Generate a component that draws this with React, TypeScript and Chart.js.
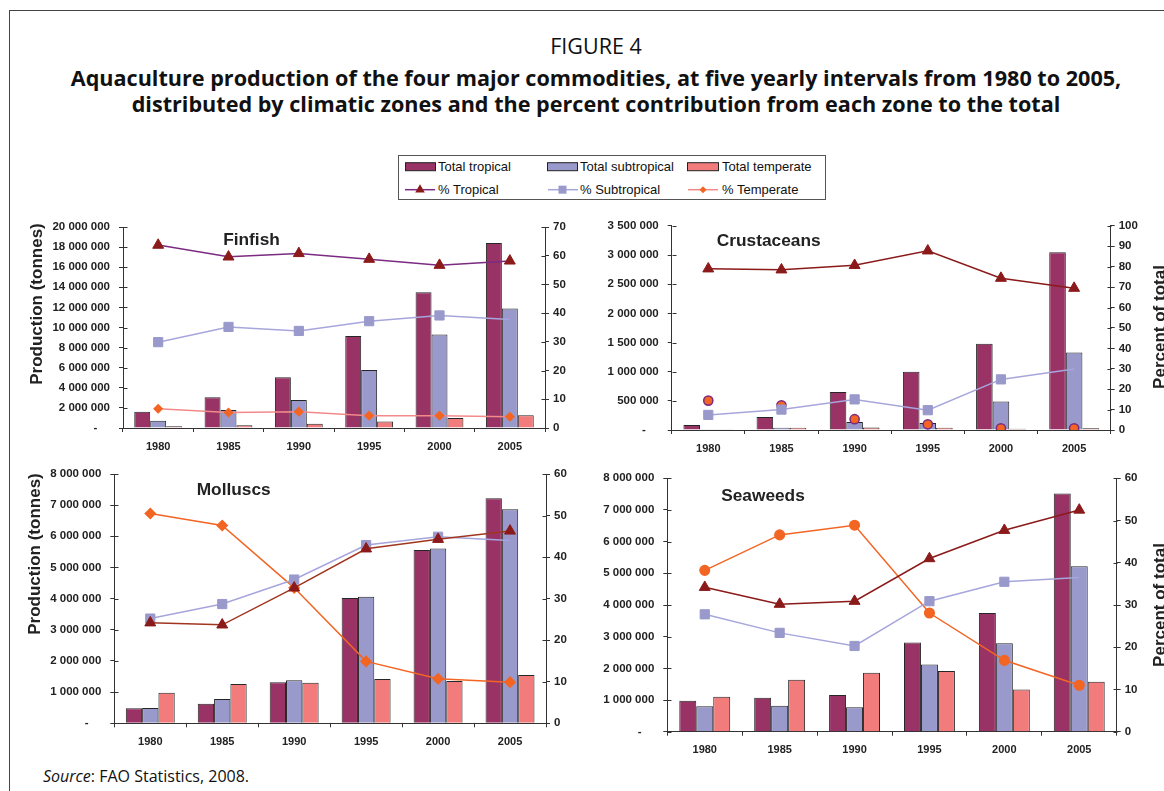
import React, { useEffect, useRef } from "react";
import { Chart, registerables } from "chart.js";
Chart.register(...registerables);

// ---------- DATA ----------
const years = ["1980", "1985", "1990", "1995", "2000", "2005"];

const finTropical = [1620000, 3050000, 5040000, 9150000, 13500000, 18400000];
const finSubtropical = [730000, 1790000, 2790000, 5770000, 9300000, 11900000];
const finTemperate = [170000, 270000, 430000, 650000, 1000000, 1260000];
const finPctTropical = [63.7, 59.6, 60.8, 58.8, 56.7, 58.2];
const finPctSubtropical = [29.9, 35.2, 33.8, 37.2, 39.2, 37.8];
const finPctTemperate = [6.7, 5.4, 5.7, 4.3, 4.3, 3.9];

const cruTropical = [85000, 221000, 651000, 1000000, 1480000, 3050000];
const cruSubtropical = [5000, 40000, 136000, 120000, 490000, 1330000];
const cruTemperate = [12000, 40000, 45000, 40000, 20000, 30000];
const cruPctTropical = [79.0, 78.5, 80.7, 87.8, 74.4, 69.5];
const cruPctSubtropical = [7.4, 10.0, 15.0, 9.7, 24.8, 29.9];
const cruPctTemperate = [14.4, 12.1, 5.3, 2.8, 0.8, 0.8];

const molTropical = [480000, 630000, 1320000, 4020000, 5560000, 7220000];
const molSubtropical = [490000, 780000, 1380000, 4060000, 5610000, 6870000];
const molTemperate = [980000, 1260000, 1300000, 1420000, 1360000, 1550000];
const molPctTropical = [24.2, 23.7, 32.6, 42.0, 44.3, 46.3];
const molPctSubtropical = [25.2, 28.7, 34.6, 42.9, 44.9, 44.0];
const molPctTemperate = [50.5, 47.6, 32.6, 14.9, 10.7, 9.9];

const seaTropical = [980000, 1070000, 1160000, 2820000, 3750000, 7520000];
const seaSubtropical = [800000, 820000, 770000, 2120000, 2790000, 5220000];
const seaTemperate = [1100000, 1640000, 1860000, 1920000, 1330000, 1580000];
const seaPctTropical = [34.2, 30.2, 30.9, 41.0, 47.7, 52.5];
const seaPctSubtropical = [27.8, 23.4, 20.3, 30.9, 35.5, 36.5];
const seaPctTemperate = [38.2, 46.6, 48.9, 28.1, 16.9, 11.0];

// ---------- STYLE ----------
const C_TROP = "#993366";
const C_SUB = "#9999CC";
const C_TEMP = "#F27C7C";
const C_EDGE = "#262626";
const C_TRI = "#8B1A1A";
const C_SUBLINE = "#A6A6DC";
const C_ORANGE = "#F26522";
const C_PURPLE = "#7B2B82";
const C_SALMON = "#F28A8A";
const AXIS = "#333333";
const TXT = "#222222";
const FONT = "'Liberation Sans', Arial, sans-serif";
const TFONT = "'Open Sans', 'Noto Sans', sans-serif";

function fmtTonnes(v: number) {
  if (v === 0) return "-    ";
  return String(v).replace(/\B(?=(\d{3})+(?!\d))/g, " ");
}

const innerTicks = {
  id: "innerTicks",
  afterDraw(chart: any) {
    const ctx = chart.ctx;
    ctx.save();
    ctx.strokeStyle = AXIS;
    ctx.lineWidth = 1;
    ["y", "y1"].forEach((id) => {
      const s = chart.scales[id];
      if (!s) return;
      const x = id === "y" ? Math.round(s.right) + 0.5 : Math.round(s.left) + 0.5;
      const dir = id === "y" ? 1 : -1;
      s.ticks.forEach((_t: any, i: number) => {
        const py = Math.round(s.getPixelForTick(i)) + 0.5;
        ctx.beginPath();
        ctx.moveTo(x, py);
        ctx.lineTo(x + dir * 4, py);
        ctx.stroke();
      });
    });
    ctx.restore();
  },
};

type Spec = {
  trop: number[]; sub: number[]; temp: number[];
  pT: number[]; pS: number[]; pTe: number[];
  leftMax: number; leftStep: number; rightMax: number;
  yW: number; y1W: number; padTop: number; xH: number;
  tropLine: string; tempLine: string; tempStyle: string;
  tempRadius: number; tempShowLine: boolean; tempBorder: string;
};

function buildConfig(s: Spec): any {
  const tickFont = { family: FONT, size: 11.5, weight: "bold" as const };
  return {
    type: "bar",
    data: {
      labels: years,
      datasets: [
        {
          type: "line", label: "% Tropical", data: s.pT, yAxisID: "y1",
          borderColor: s.tropLine, borderWidth: 1.5, pointStyle: "triangle",
          pointRadius: 6.3, pointBackgroundColor: C_TRI, pointBorderColor: C_TRI,
          pointBorderWidth: 1, order: 0, tension: 0,
        },
        {
          type: "line", label: "% Subtropical", data: s.pS, yAxisID: "y1",
          borderColor: C_SUBLINE, borderWidth: 1.5, pointStyle: "rect",
          pointRadius: [6.5, 6.5, 6.5, 6.5, 6.5, 0], pointBackgroundColor: C_SUB,
          pointBorderColor: C_SUB, pointBorderWidth: 1, order: 0, tension: 0,
        },
        {
          type: "line", label: "% Temperate", data: s.pTe, yAxisID: "y1",
          borderColor: s.tempLine, borderWidth: 1.5, showLine: s.tempShowLine,
          pointStyle: s.tempStyle, pointRadius: s.tempRadius,
          pointBackgroundColor: C_ORANGE, pointBorderColor: s.tempBorder,
          pointBorderWidth: 1.5, order: 0, tension: 0,
        },
        {
          type: "bar", label: "Total tropical", data: s.trop, yAxisID: "y",
          backgroundColor: C_TROP, borderColor: C_EDGE, borderWidth: 1, order: 1,
          categoryPercentage: 0.68, barPercentage: 1,
        },
        {
          type: "bar", label: "Total subtropical", data: s.sub, yAxisID: "y",
          backgroundColor: C_SUB, borderColor: C_EDGE, borderWidth: 1, order: 1,
          categoryPercentage: 0.68, barPercentage: 1,
        },
        {
          type: "bar", label: "Total temperate", data: s.temp, yAxisID: "y",
          backgroundColor: C_TEMP, borderColor: C_EDGE, borderWidth: 1, order: 1,
          categoryPercentage: 0.68, barPercentage: 1,
        },
      ],
    },
    options: {
      responsive: false,
      animation: false,
      events: [],
      layout: { padding: { top: s.padTop, left: 0, right: 0, bottom: 0 } },
      plugins: { legend: { display: false }, tooltip: { enabled: false } },
      scales: {
        x: {
          type: "category",
          offset: true,
          grid: { offset: true, drawOnChartArea: false, tickLength: 4, color: AXIS },
          border: { color: AXIS, width: 1 },
          ticks: { font: { family: FONT, size: 11, weight: "bold" }, color: TXT, padding: 8, maxRotation: 0 },
          afterFit: (sc: any) => { sc.height = s.xH; },
        },
        y: {
          position: "left",
          min: 0, max: s.leftMax,
          grid: { drawOnChartArea: false, tickLength: 4, color: AXIS },
          border: { color: AXIS, width: 1 },
          ticks: { stepSize: s.leftStep, callback: (v: any) => fmtTonnes(Number(v)), font: tickFont, color: TXT, padding: 9, autoSkip: false },
          afterFit: (sc: any) => { sc.width = s.yW; },
        },
        y1: {
          position: "right",
          min: 0, max: s.rightMax,
          grid: { drawOnChartArea: false, tickLength: 4, color: AXIS },
          border: { color: AXIS, width: 1 },
          ticks: { stepSize: 10, font: tickFont, color: TXT, padding: 4, autoSkip: false },
          afterFit: (sc: any) => { sc.width = s.y1W; },
        },
      },
    },
    plugins: [innerTicks],
  };
}

function Panel(props: { left: number; top: number; width: number; height: number; spec: Spec }) {
  const ref = useRef<HTMLCanvasElement | null>(null);
  useEffect(() => {
    if (!ref.current) return;
    const chart = new Chart(ref.current, buildConfig(props.spec));
    return () => chart.destroy();
  }, []);
  return (
    <canvas
      ref={ref}
      width={props.width}
      height={props.height}
      style={{ position: "absolute", left: props.left, top: props.top, width: props.width, height: props.height }}
    />
  );
}

const abs = (l: number, t: number, extra: any = {}) => ({ position: "absolute" as const, left: l, top: t, ...extra });

function Label(props: { x: number; y: number; text: string; size: number; rotate?: number; bold?: boolean }) {
  return (
    <div
      style={{
        position: "absolute", left: props.x, top: props.y, whiteSpace: "nowrap",
        transform: `translate(-50%, -50%)${props.rotate ? ` rotate(${props.rotate}deg)` : ""}`,
        fontFamily: FONT, fontWeight: props.bold === false ? 400 : 700, fontSize: props.size, color: TXT, lineHeight: 1,
      }}
    >
      {props.text}
    </div>
  );
}

function Legend() {
  const t = { fontFamily: FONT, fontSize: 13, fill: "#111" };
  const r1 = 12.7, r2 = 35.7;
  return (
    <svg width={430} height={47} style={abs(397, 154)}>
      <rect x={1.5} y={1.5} width={427} height={44} fill="#fff" stroke="#555" strokeWidth={1} />
      <rect x={8.5} y={r1 - 4} width={30} height={8} fill={C_TROP} stroke="#222" strokeWidth={1} />
      <text x={41} y={r1 + 4.6} style={t as any}>Total tropical</text>
      <rect x={150.5} y={r1 - 4} width={30} height={8} fill={C_SUB} stroke="#222" strokeWidth={1} />
      <text x={183} y={r1 + 4.6} style={t as any}>Total subtropical</text>
      <rect x={290.5} y={r1 - 4} width={31} height={8} fill={C_TEMP} stroke="#222" strokeWidth={1} />
      <text x={325} y={r1 + 4.6} style={t as any}>Total temperate</text>

      <line x1={8} y1={r2} x2={38} y2={r2} stroke={C_PURPLE} strokeWidth={1.5} />
      <polygon points={`23,${r2 - 5.5} 27.8,${r2 + 2.8} 18.2,${r2 + 2.8}`} fill={C_TRI} />
      <text x={41} y={r2 + 4.6} style={t as any}>% Tropical</text>
      <line x1={151} y1={r2} x2={181} y2={r2} stroke={C_SUBLINE} strokeWidth={1.5} />
      <rect x={161.5} y={r2 - 4} width={8} height={8} fill={C_SUB} />
      <text x={183} y={r2 + 4.6} style={t as any}>% Subtropical</text>
      <line x1={291} y1={r2} x2={321} y2={r2} stroke={C_SALMON} strokeWidth={1.5} />
      <polygon points={`306,${r2 - 3.5} 309.5,${r2} 306,${r2 + 3.5} 302.5,${r2}`} fill={C_ORANGE} />
      <text x={325} y={r2 + 4.6} style={t as any}>% Temperate</text>
    </svg>
  );
}

const finSpec: Spec = {
  trop: finTropical, sub: finSubtropical, temp: finTemperate,
  pT: finPctTropical, pS: finPctSubtropical, pTe: finPctTemperate,
  leftMax: 20000000, leftStep: 2000000, rightMax: 70,
  yW: 103, y1W: 40, padTop: 17, xH: 30,
  tropLine: C_PURPLE, tempLine: C_SALMON, tempStyle: "rectRot", tempRadius: 4,
  tempShowLine: true, tempBorder: C_ORANGE,
};
const cruSpec: Spec = {
  trop: cruTropical, sub: cruSubtropical, temp: cruTemperate,
  pT: cruPctTropical, pS: cruPctSubtropical, pTe: cruPctTemperate,
  leftMax: 3500000, leftStep: 500000, rightMax: 100,
  yW: 101.7, y1W: 41.3, padTop: 14, xH: 30,
  tropLine: C_TRI, tempLine: C_ORANGE, tempStyle: "circle", tempRadius: 4.6,
  tempShowLine: false, tempBorder: C_PURPLE,
};
const molSpec: Spec = {
  trop: molTropical, sub: molSubtropical, temp: molTemperate,
  pT: molPctTropical, pS: molPctSubtropical, pTe: molPctTemperate,
  leftMax: 8000000, leftStep: 1000000, rightMax: 60,
  yW: 100.3, y1W: 40, padTop: 19, xH: 30.7,
  tropLine: "#A0361F", tempLine: C_ORANGE, tempStyle: "rectRot", tempRadius: 5,
  tempShowLine: true, tempBorder: C_ORANGE,
};
const seaSpec: Spec = {
  trop: seaTropical, sub: seaSubtropical, temp: seaTemperate,
  pT: seaPctTropical, pS: seaPctSubtropical, pTe: seaPctTemperate,
  leftMax: 8000000, leftStep: 1000000, rightMax: 60,
  yW: 97.3, y1W: 48.3, padTop: 18.3, xH: 30.3,
  tropLine: C_TRI, tempLine: C_ORANGE, tempStyle: "circle", tempRadius: 4.8,
  tempShowLine: true, tempBorder: C_ORANGE,
};

export default function App() {
  return (
    <div style={{ position: "fixed", left: 0, top: 0, width: 1164, height: 791, overflow: "hidden", background: "#fff" }}>
      <div style={abs(9, 10, { width: 1300, height: 900, borderTop: "1.5px solid #444", borderLeft: "1.5px solid #444" })} />

      <div style={abs(0, 33, { width: 1192, textAlign: "center", fontFamily: TFONT, fontSize: 21.5, lineHeight: "26px", color: "#111" })}>
        FIGURE 4
      </div>
      <div style={abs(0, 65, { width: 1192, textAlign: "center", fontFamily: TFONT, fontWeight: 700, fontSize: 21.6, lineHeight: "26px", color: "#111" })}>
        Aquaculture production of the four major commodities, at five yearly intervals from 1980 to 2005,
      </div>
      <div style={abs(0, 91, { width: 1192, textAlign: "center", fontFamily: TFONT, fontWeight: 700, fontSize: 21.6, lineHeight: "26px", color: "#111" })}>
        distributed by climatic zones and the percent contribution from each zone to the total
      </div>

      <Legend />

      <Panel left={20} top={210} width={565} height={248} spec={finSpec} />
      <Panel left={570} top={210} width={582} height={250} spec={cruSpec} />
      <Panel left={14} top={455} width={572} height={299} spec={molSpec} />
      <Panel left={570} top={460} width={595} height={302} spec={seaSpec} />

      <Label x={251.5} y={240} text="Finfish" size={17.3} />
      <Label x={768.7} y={241} text="Crustaceans" size={17.3} />
      <Label x={233.7} y={490} text="Molluscs" size={17.3} />
      <Label x={763} y={496} text="Seaweeds" size={17.3} />

      <Label x={35.5} y={304} text="Production (tonnes)" size={17} rotate={-90} />
      <Label x={33.5} y={554} text="Production (tonnes)" size={17} rotate={-90} />
      <Label x={1159} y={327} text="Percent of total" size={17} rotate={-90} />
      <Label x={1159} y={605} text="Percent of total" size={17} rotate={-90} />

      <div style={abs(43, 765, { fontFamily: TFONT, fontSize: 16, lineHeight: "22px", color: "#111", whiteSpace: "nowrap" })}>
        <i>Source</i>: FAO Statistics, 2008.
      </div>
    </div>
  );
}
